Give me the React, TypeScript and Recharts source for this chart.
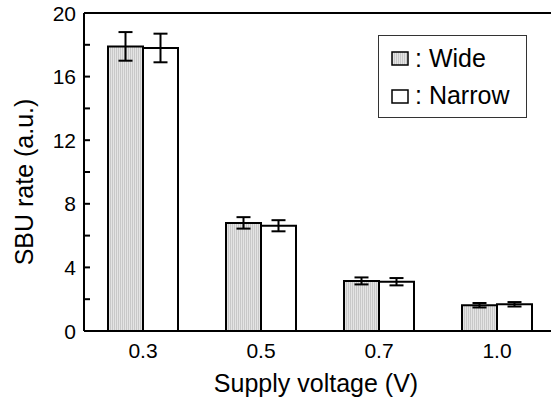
import React from "react";
import { BarChart, Bar, XAxis, YAxis, ErrorBar, ReferenceLine } from "recharts";

const voltages = ["0.3", "0.5", "0.7", "1.0"];
const wideRate = [17.9, 6.8, 3.15, 1.62];
const wideErr = [0.9, 0.36, 0.22, 0.14];
const narrowRate = [17.8, 6.62, 3.1, 1.68];
const narrowErr = [0.9, 0.35, 0.23, 0.14];
const yTicks = [0, 2, 4, 6, 8, 10, 12, 14, 16, 18, 20];

const data = voltages.map((v, i) => ({
  voltage: v,
  wide: wideRate[i],
  wideErr: wideErr[i],
  narrow: narrowRate[i],
  narrowErr: narrowErr[i],
}));

const FONT = "'Liberation Sans', Arial, Helvetica, sans-serif";

const YTick = (props: any) => {
  const { x, y, payload } = props;
  const v = payload.value;
  return (
    <g>
      <line x1={x} y1={y} x2={x + 6} y2={y} stroke="#000" strokeWidth={2} />
      {v % 4 === 0 && (
        <text x={x - 8} y={y} dy="0.36em" textAnchor="end" fontSize={21} fontFamily={FONT} fill="#000">
          {v}
        </text>
      )}
    </g>
  );
};

const LegendBox = () => (
  <svg width={149} height={83} style={{ position: "absolute", left: 378, top: 35 }}>
    <rect x={0.5} y={0.5} width={148} height={82} fill="#fff" stroke="#333" strokeWidth={1} />
    <rect x={14} y={17} width={16} height={13} fill="url(#stripesLegend)" stroke="#000" strokeWidth={1.5} />
    <text x={37} y={32} fontSize={25} fontFamily={FONT} fill="#000">: Wide</text>
    <rect x={14} y={55} width={16} height={13} fill="#fff" stroke="#000" strokeWidth={1.5} />
    <text x={37} y={69} fontSize={25} fontFamily={FONT} fill="#000">: Narrow</text>
    <defs>
      <pattern id="stripesLegend" width={2} height={4} patternUnits="userSpaceOnUse">
        <rect x={0} y={0} width={1} height={4} fill="#c8c8c8" />
        <rect x={1} y={0} width={1} height={4} fill="#e4e4e4" />
      </pattern>
    </defs>
  </svg>
);

export default function App() {
  return (
    <div style={{ position: "absolute", left: 0, top: 0, width: 551, height: 401, overflow: "hidden", background: "#fff" }}>
      <BarChart
        width={570}
        height={401}
        data={data}
        margin={{ top: 13, right: 14, left: 0, bottom: 0 }}
        barCategoryGap={24}
        barGap={0}
      >
        <defs>
          <pattern id="stripes" width={2} height={4} patternUnits="userSpaceOnUse">
            <rect x={0} y={0} width={1} height={4} fill="#c8c8c8" />
            <rect x={1} y={0} width={1} height={4} fill="#e4e4e4" />
          </pattern>
        </defs>
        <XAxis
          dataKey="voltage"
          height={70}
          stroke="#000"
          strokeWidth={2}
          tickLine={false}
          tickSize={0}
          tickMargin={12}
          tick={{ fontSize: 21, fontFamily: FONT, fill: "#000" }}
          label={{
            content: (p: any) => {
              const vb = p.viewBox;
              return (
                <text x={316} y={vb.y + 61} textAnchor="middle" fontSize={25} fontFamily={FONT} fill="#000">
                  Supply voltage (V)
                </text>
              );
            },
          }}
        />
        <YAxis
          width={84}
          domain={[0, 20]}
          ticks={yTicks}
          interval={0}
          stroke="#000"
          strokeWidth={2}
          tickLine={false}
          tickSize={0}
          tickMargin={0}
          tick={<YTick />}
          label={{
            content: () => (
              <text
                x={33}
                y={182}
                transform="rotate(-90 33 182)"
                textAnchor="middle"
                fontSize={25}
                fontFamily={FONT}
                fill="#000"
              >
                SBU rate (a.u.)
              </text>
            ),
          }}
        />
        <ReferenceLine y={20} stroke="#000" strokeWidth={2} ifOverflow="extendDomain" />
        <Bar dataKey="wide" fill="url(#stripes)" stroke="#000" strokeWidth={2} isAnimationActive={false}>
          <ErrorBar dataKey="wideErr" width={7} stroke="#000" strokeWidth={2} />
        </Bar>
        <Bar dataKey="narrow" fill="#fff" stroke="#000" strokeWidth={2} isAnimationActive={false}>
          <ErrorBar dataKey="narrowErr" width={7} stroke="#000" strokeWidth={2} />
        </Bar>
      </BarChart>
      <LegendBox />
    </div>
  );
}
